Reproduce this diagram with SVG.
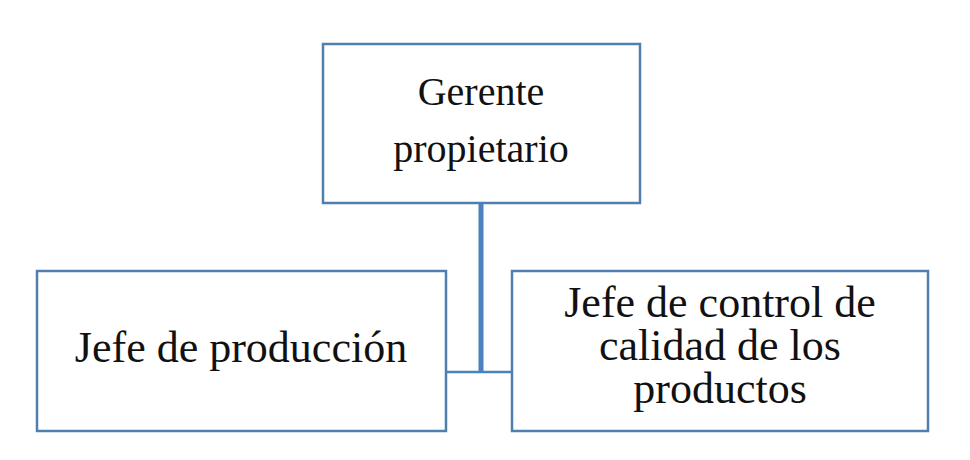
<svg xmlns="http://www.w3.org/2000/svg" width="970" height="460" viewBox="0 0 970 460">
<style>
.box{fill:#ffffff;stroke:#4f7fae;stroke-width:2.5}
.t{font-family:"Liberation Serif","Times New Roman",serif;fill:#111;text-anchor:middle}
.conn{stroke:#4a82c0;fill:none}
</style>
<rect width="970" height="460" fill="#ffffff"/>
<g id="connectors">
<line class="conn" x1="481" y1="203" x2="481" y2="372" stroke-width="5"/>
<line class="conn" x1="446" y1="372" x2="512" y2="372" stroke-width="2.5"/>
</g>
<g id="gerente">
<rect class="box" x="323" y="44" width="317" height="159"/>
<text class="t" font-size="40" x="481" y="105">Gerente</text>
<text class="t" font-size="40" x="481" y="162">propietario</text>
</g>
<g id="produccion">
<rect class="box" x="37" y="271" width="409" height="160"/>
<text class="t" font-size="44" x="241" y="362">Jefe de producción</text>
</g>
<g id="calidad">
<rect class="box" x="512" y="271" width="416" height="160"/>
<text class="t" font-size="44" x="720" y="317">Jefe de control de</text>
<text class="t" font-size="44" x="720" y="360">calidad de los</text>
<text class="t" font-size="44" x="720" y="403">productos</text>
</g>
</svg>
